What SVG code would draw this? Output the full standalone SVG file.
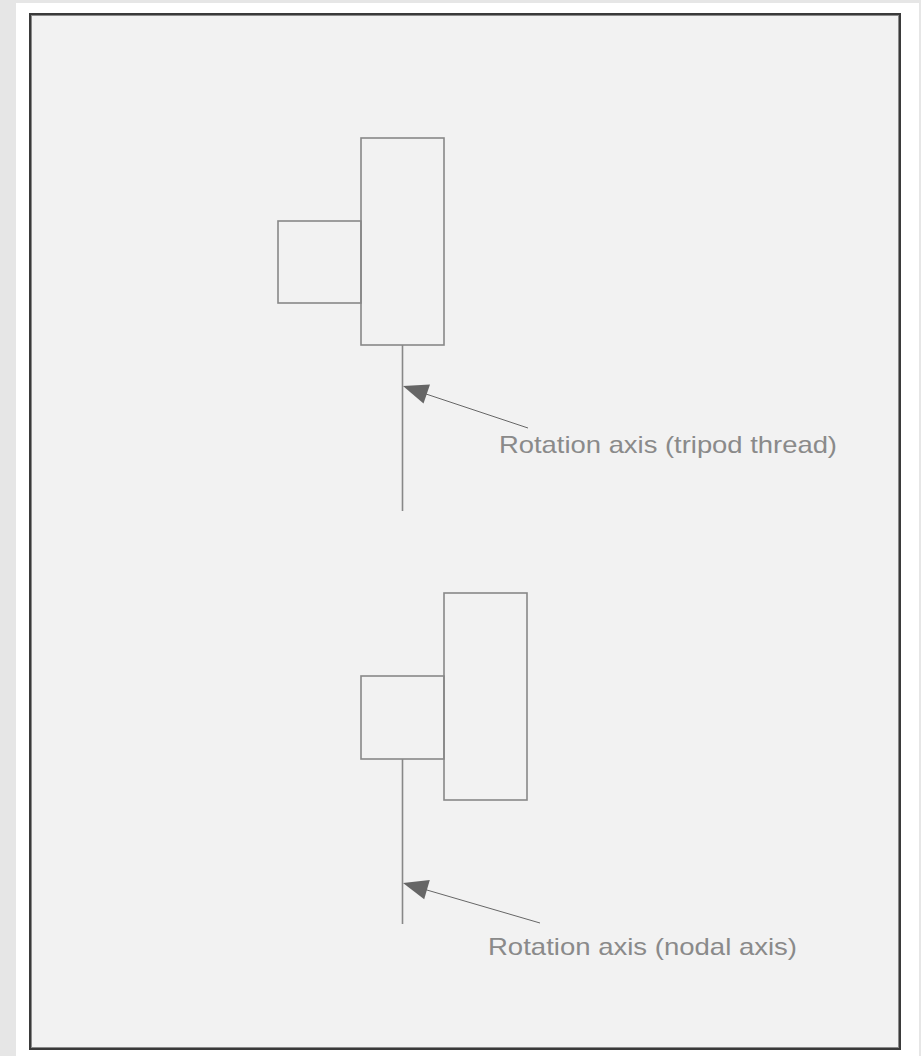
<svg xmlns="http://www.w3.org/2000/svg" width="921" height="1056" viewBox="0 0 921 1056">
<style>
.shape{fill:none;stroke:#888;stroke-width:1.6}
.axis{stroke:#888;stroke-width:1.6}
.lead{stroke:#666;stroke-width:1;fill:none}
.head{fill:#666;stroke:none}
.lbl{font-family:"Liberation Sans",Arial,sans-serif;font-size:24px;fill:#8a8a8a}
</style>
<rect x="0" y="0" width="921" height="1056" fill="#e6e6e6"/>
<rect x="16" y="3" width="903" height="1053" fill="#ffffff"/>
<rect x="30" y="14" width="870" height="1035" fill="#f2f2f2" stroke="#3a3a3a" stroke-width="2"/>
<rect x="31.5" y="15.5" width="867" height="1032" fill="none" stroke="#8a8a8a" stroke-width="1"/>
<g id="top-camera">
<rect class="shape" x="361" y="138" width="83" height="207"/>
<rect class="shape" x="278" y="221" width="83" height="82"/>
</g>
<g id="bottom-camera">
<rect class="shape" x="444" y="593" width="83" height="207"/>
<rect class="shape" x="361" y="676" width="83" height="83"/>
</g>
<g id="axis-top"><line class="axis" x1="402.5" y1="345" x2="402.5" y2="511"/></g>
<g id="axis-bottom"><line class="axis" x1="402.5" y1="759" x2="402.5" y2="924"/></g>
<g id="connectors">
<line class="lead" x1="528" y1="428" x2="420" y2="392"/>
<polygon class="head" points="403,386 430,384.5 423.5,403.5"/>
<line class="lead" x1="540" y1="923" x2="420" y2="888"/>
<polygon class="head" points="403,883 429.8,880 424.2,899.3"/>
</g>
<g id="label-top"><text class="lbl" x="499" y="453" textLength="338" lengthAdjust="spacingAndGlyphs">Rotation axis (tripod thread)</text></g>
<g id="label-bottom"><text class="lbl" x="488" y="955" textLength="309" lengthAdjust="spacingAndGlyphs">Rotation axis (nodal axis)</text></g>
</svg>
